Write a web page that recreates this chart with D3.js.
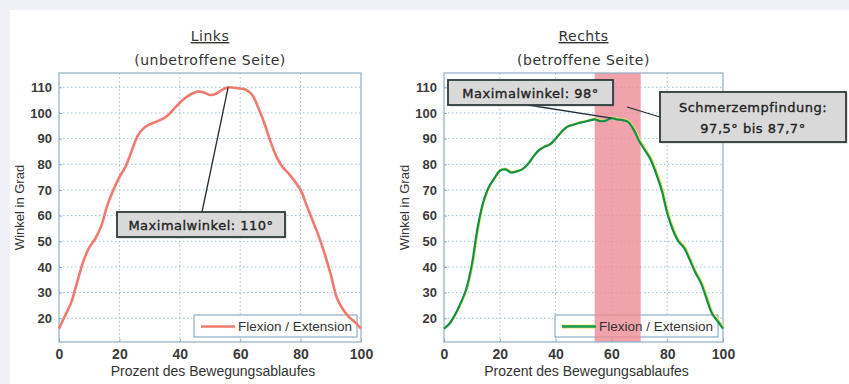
<!DOCTYPE html>
<html><head><meta charset="utf-8">
<script src="https://cdn.jsdelivr.net/npm/d3@7"></script>
<style>
html,body{margin:0;padding:0;background:#eff1f7;}
svg{display:block;}
</style></head>
<body>
<svg id="c" width="849" height="384"></svg>
<script>
// ---- data ----
const percentLeft = [0,2,4,6,8,10,12,14,16,18,20,22,24,26,28,30,32,34,36,38,40,42,44,46,48,50,52,54,56,58,60,62,64,66,68,70,72,74,76,78,80,82,84,86,88,90,92,94,96,98,100];
const angleLeft   = [16,21,26,34,42,47.5,51,56,64,70,75,79,85,91,94,95.5,96.5,97.5,99,101.5,104,106,107.5,108.3,108,107,107.5,109,110,109.8,109.5,109,107,102,96,89,83,79,76.5,73.5,70,64,58,52,45,37,28,23.5,20.5,18.5,16];
const percentRight = [0,2,4,6,8,10,12,14,16,18,20,22,24,26,28,30,32,34,36,38,40,42,44,46,48,50,52,54,56,58,60,62,64,66,68,70,72,74,76,78,80,82,84,86,88,90,92,94,96,98,100];
const angleRight   = [16,18,21.5,26,31.5,41,55,65,71,74.5,77.5,78,76.8,77.2,78,80,83,85.5,86.8,87.8,90,92.5,94.5,95.3,96,96.5,97,97.5,96.8,97,98,97.5,97.2,96.5,93.5,89,85.5,82,76.5,70,61,54.5,50,47.5,43,38,34,28,22,19,16];
const xTicks = [0,20,40,60,80,100];
const yTicks = [20,30,40,50,60,70,80,90,100,110];
const yDomain = [10.77,115.57];
const xDomain = [0,100];
const painBand = [54,70.5];
const maxLeft = [56,110];
const maxRight = [60,98];
const titles = [["Links","(unbetroffene Seite)"],["Rechts","(betroffene Seite)"]];
const legendLabel = "Flexion / Extension";
const xLabel = "Prozent des Bewegungsablaufes";
const yLabel = "Winkel in Grad";

const svg = d3.select("#c");
svg.append("rect").attr("x",10).attr("y",10).attr("width",839).attr("height",374).attr("fill","#ffffff");

const yTop=73,yBot=342;
const y = d3.scaleLinear().domain(yDomain).range([yBot,yTop]);
const gridCol="#9dbfd6", frameCol="#8eaec6", txt="#333";

function panel(x0,x1,title){
  const x = d3.scaleLinear().domain(xDomain).range([x0,x1]);
  const g = svg.append("g");
  const cx=(x0+x1)/2;
  g.append("text").attr("x",cx).attr("y",41).attr("text-anchor","middle")
    .attr("font-family","DejaVu Sans").attr("font-size",14).attr("letter-spacing",0.5).attr("fill",txt)
    .attr("text-decoration","underline").text(title[0]);
  g.append("text").attr("x",cx).attr("y",65).attr("text-anchor","middle")
    .attr("font-family","DejaVu Sans").attr("font-size",14).attr("letter-spacing",0.5).attr("fill",txt).text(title[1]);
  g.selectAll(".gx").data(xTicks.slice(1,-1)).enter().append("line")
    .attr("x1",d=>x(d)).attr("x2",d=>x(d)).attr("y1",yTop).attr("y2",yBot)
    .attr("stroke",gridCol).attr("stroke-width",1).attr("stroke-dasharray","1.5,2.5");
  g.selectAll(".gy").data(yTicks).enter().append("line")
    .attr("y1",d=>y(d)).attr("y2",d=>y(d)).attr("x1",x0).attr("x2",x1)
    .attr("stroke",gridCol).attr("stroke-width",1).attr("stroke-dasharray","1.5,2.5");
  return {g,x};
}

function axes(p,x0,x1){
  const {g,x}=p;
  g.append("rect").attr("x",x0).attr("y",yTop).attr("width",x1-x0).attr("height",yBot-yTop)
    .attr("fill","none").attr("stroke",frameCol).attr("stroke-width",1.2);
  const ya = g.append("g").attr("transform",`translate(${x0},0)`)
    .call(d3.axisLeft(y).tickValues(yTicks).tickSize(-3).tickPadding(7));
  ya.select(".domain").remove();
  ya.selectAll("line").attr("stroke",frameCol);
  ya.selectAll("text").attr("font-family","Liberation Sans").attr("font-weight","bold")
    .attr("font-size",13).attr("fill","#3a3a3a");
  const xa = g.append("g").attr("transform",`translate(0,${yBot})`)
    .call(d3.axisBottom(x).tickValues(xTicks).tickSize(-3).tickPadding(7));
  xa.select(".domain").remove();
  xa.selectAll("line").attr("stroke",frameCol);
  xa.selectAll("text").attr("font-family","Liberation Sans").attr("font-weight","bold")
    .attr("font-size",14).attr("fill","#3a3a3a");
  g.append("text").attr("x",(x0+x1)/2+3).attr("y",376).attr("text-anchor","middle")
    .attr("font-family","Liberation Sans").attr("font-size",14).attr("fill",txt).text(xLabel);
  g.append("text").attr("transform",`translate(${x0-35},${(yTop+yBot)/2}) rotate(-90)`)
    .attr("text-anchor","middle").attr("font-family","Liberation Sans").attr("font-size",13)
    .attr("fill",txt).text(yLabel);
}

function legendBox(g,lx){
  g.append("rect").attr("x",lx).attr("y",315).attr("width",163).attr("height",22)
    .attr("fill","#fff").attr("stroke",frameCol).attr("stroke-width",1.2);
}
function legendContent(g,lx,color,green){
  if(green) g.append("line").attr("x1",lx+7).attr("x2",lx+41).attr("y1",326.5).attr("y2",326.5)
    .attr("stroke","#e3e070").attr("stroke-width",4);
  g.append("line").attr("x1",lx+7).attr("x2",lx+41).attr("y1",326.5).attr("y2",326.5)
    .attr("stroke",color).attr("stroke-width",2.5);
  g.append("text").attr("x",lx+44).attr("y",331).attr("font-family","Liberation Sans")
    .attr("font-size",13.5).attr("fill",txt).text(legendLabel);
}

function annBox(x,yy,w,h,lines){
  const g=svg.append("g");
  g.append("rect").attr("x",x+1.5).attr("y",yy+1.5).attr("width",w).attr("height",h).attr("fill","#9a9a9a").attr("opacity",0.5);
  g.append("rect").attr("x",x).attr("y",yy).attr("width",w).attr("height",h)
    .attr("fill","#d9d9d9").attr("stroke","#2e3a3a").attr("stroke-width",1.8);
  lines.forEach((t,i)=>{
    g.append("text").attr("x",x+w/2).attr("y",yy+ (lines.length===1? h/2+5 : 20+i*21)).attr("text-anchor","middle")
      .attr("font-family","DejaVu Sans").attr("font-size",13)
      .attr("letter-spacing",0.5).attr("fill","#222").attr("stroke","#222").attr("stroke-width",0.35).text(t);
  });
}

const lineGen = xsc => d3.line().x(d=>xsc(d[0])).y(d=>y(d[1])).curve(d3.curveCatmullRom.alpha(0.5));

// ---- Left panel ----
const L = panel(59,361,titles[0]);
axes(L,59,361);
legendBox(L.g,194);
legendContent(L.g,194,"#f07a6e",false);
L.g.append("path").datum(d3.zip(percentLeft,angleLeft)).attr("d",lineGen(L.x))
  .attr("fill","none").attr("stroke","#f07a6e").attr("stroke-width",2.6);
L.g.append("line").attr("x1",L.x(maxLeft[0])).attr("y1",y(maxLeft[1])).attr("x2",202).attr("y2",212)
  .attr("stroke","#1f2f33").attr("stroke-width",1.3);
annBox(117,212,168,25,["Maximalwinkel: 110°"]);

// ---- Right panel ----
const R = panel(444,723,titles[1]);
legendBox(R.g,555);
R.g.append("rect").attr("x",R.x(painBand[0])).attr("y",yTop).attr("width",R.x(painBand[1])-R.x(painBand[0]))
  .attr("height",yBot-yTop).attr("fill","#ee8c96").attr("opacity",0.8);
axes(R,444,723);
legendContent(R.g,555,"#1c9a4c",true);
const rd = d3.zip(percentRight,angleRight);
R.g.append("path").datum(rd).attr("d",lineGen(R.x)).attr("transform","translate(0.8,-0.6)")
  .attr("fill","none").attr("stroke","#e6e36a").attr("stroke-width",2.4);
R.g.append("path").datum(rd).attr("d",lineGen(R.x))
  .attr("fill","none").attr("stroke","#129048").attr("stroke-width",2.2);
R.g.append("line").attr("x1",528).attr("y1",105).attr("x2",R.x(maxRight[0])).attr("y2",y(maxRight[1]))
  .attr("stroke","#1f2f33").attr("stroke-width",1.3);
R.g.append("line").attr("x1",627).attr("y1",107).attr("x2",660).attr("y2",117)
  .attr("stroke","#1f2f33").attr("stroke-width",1.3);
annBox(448,80,165,25,["Maximalwinkel: 98°"]);
annBox(660,92,186,50,["Schmerzempfindung:","97,5° bis 87,7°"]);
</script>
</body></html>
